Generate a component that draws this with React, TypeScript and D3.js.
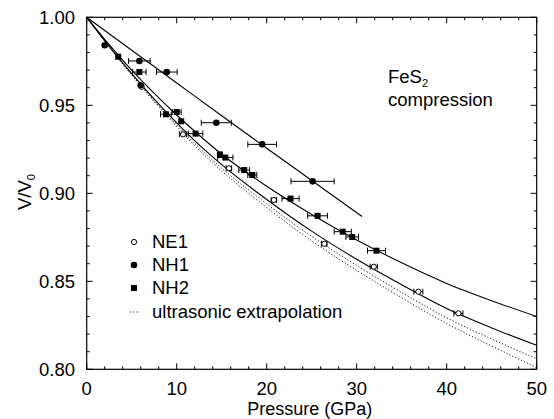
import React from 'react';
import * as d3 from 'd3';

// ---------- data ----------
const curveP = [0, 2.5, 5, 7.5, 10, 12.5, 15, 20, 25, 30, 35, 40, 45, 50];
const nh2FitV = [1.0, 0.9845, 0.97, 0.9568, 0.9445, 0.933, 0.9222, 0.904, 0.888, 0.8735, 0.8605, 0.8488, 0.839, 0.83];
const ne1FitV = [1.0, 0.9835, 0.968, 0.9535, 0.94, 0.9275, 0.9163, 0.8965, 0.8785, 0.8625, 0.848, 0.8345, 0.8235, 0.8136];
const ultraAV = [1.0, 0.9833, 0.9675, 0.9527, 0.9388, 0.9259, 0.9143, 0.894, 0.8755, 0.859, 0.8437, 0.8293, 0.8172, 0.806];
const ultraBV = [1.0, 0.9831, 0.9671, 0.952, 0.9378, 0.9245, 0.9127, 0.8919, 0.873, 0.8562, 0.8407, 0.826, 0.8132, 0.801];

const nh1FitP = [0, 5, 10, 15, 20, 25, 30.6];
const nh1FitV = [1.0, 0.9813, 0.9627, 0.9441, 0.9256, 0.9073, 0.8868];

const ne1P = [6.1, 10.7, 15.8, 20.8, 26.4, 31.9, 36.85, 41.3];
const ne1V = [0.9605, 0.9335, 0.9142, 0.8962, 0.8713, 0.8583, 0.8441, 0.8318];
const ne1Err = [0, 0.4, 0.3, 0.3, 0.3, 0.4, 0.5, 0.5];

const nh1P = [2.0, 5.85, 6.0, 8.9, 14.4, 19.5, 25.1];
const nh1V = [0.9841, 0.9752, 0.9614, 0.9689, 0.9401, 0.9278, 0.9068];
const nh1Err = [0, 1.2, 0, 1.15, 1.67, 1.6, 2.4];

const nh2P = [3.5, 5.85, 8.8, 10.0, 10.5, 12.1, 14.8, 15.4, 17.5, 18.4, 22.65, 25.65, 28.45, 29.5, 32.2];
const nh2V = [0.9776, 0.9689, 0.9449, 0.9462, 0.9409, 0.9339, 0.9221, 0.9203, 0.9132, 0.9104, 0.897, 0.8872, 0.8782, 0.8752, 0.8674];
const nh2Err = [0, 0.75, 0.6, 0.5, 0, 0.8, 0, 0.85, 0.6, 0.5, 0.95, 1.1, 0.95, 0.7, 1.0];

const xMajor = [0, 10, 20, 30, 40, 50];
const yMajor = [0.8, 0.85, 0.9, 0.95, 1.0];
const legendLabels = ['NE1', 'NH1', 'NH2', 'ultrasonic extrapolation'];

// ---------- layout ----------
const W = 554;
const H = 419;
const X0 = 86.7, X1 = 536.7, Y0 = 17.3, Y1 = 369.3;
const FONT = '"Liberation Sans", Arial, Helvetica, sans-serif';

const x = d3.scaleLinear().domain([0, 50]).range([X0, X1]);
const y = d3.scaleLinear().domain([0.8, 1.0]).range([Y1, Y0]);

const line = d3
  .line<[number, number]>()
  .x((d) => x(d[0]))
  .y((d) => y(d[1]))
  .curve(d3.curveMonotoneX);

const zip = (ps: number[], vs: number[]) => ps.map((p, i) => [p, vs[i]] as [number, number]);

function ErrorBar({ p, v, e }: { p: number; v: number; e: number }) {
  if (!e) return null;
  const cy = y(v);
  const xl = x(p - e), xr = x(p + e);
  return (
    <g stroke="#000" strokeWidth={1}>
      <line x1={xl} x2={xr} y1={cy} y2={cy} />
      <line x1={xl} x2={xl} y1={cy - 3} y2={cy + 3} />
      <line x1={xr} x2={xr} y1={cy - 3} y2={cy + 3} />
    </g>
  );
}

export default function App() {
  const xMinor = d3.range(0, 50.01, 2).filter((t) => !xMajor.some((m) => Math.abs(m - t) < 1e-6));
  const yMinor = d3.range(0.8, 1.0001, 0.01).filter((t) => !yMajor.some((m) => Math.abs(m - t) < 1e-6));

  const legendY = [242, 265, 288, 312];
  const legendSymX = 134;

  return (
    <svg
      width={W}
      height={H}
      style={{ position: 'absolute', left: 0, top: 0, background: '#fff' }}
      fontFamily={FONT}
    >
      <rect x={0} y={0} width={W} height={H} fill="#fff" />
      {/* curves */}
      <g fill="none" stroke="#000">
        <path d={line(zip(nh1FitP, nh1FitV)) || ''} strokeWidth={1.1} />
        <path d={line(zip(curveP, nh2FitV)) || ''} strokeWidth={1.1} />
        <path d={line(zip(curveP, ne1FitV)) || ''} strokeWidth={1.1} />
        <path d={line(zip(curveP, ultraAV)) || ''} strokeWidth={0.9} strokeDasharray="1.2,2" />
        <path d={line(zip(curveP, ultraBV)) || ''} strokeWidth={0.9} strokeDasharray="1.2,2" />
      </g>

      {/* error bars */}
      {ne1P.map((p, i) => <ErrorBar key={'e1' + i} p={p} v={ne1V[i]} e={ne1Err[i]} />)}
      {nh1P.map((p, i) => <ErrorBar key={'e2' + i} p={p} v={nh1V[i]} e={nh1Err[i]} />)}
      {nh2P.map((p, i) => <ErrorBar key={'e3' + i} p={p} v={nh2V[i]} e={nh2Err[i]} />)}

      {/* markers */}
      {ne1P.map((p, i) => (
        <circle key={'m1' + i} cx={x(p)} cy={y(ne1V[i])} r={2.6} fill="#fff" stroke="#000" strokeWidth={1} />
      ))}
      {nh1P.map((p, i) => (
        <circle key={'m2' + i} cx={x(p)} cy={y(nh1V[i])} r={3.3} fill="#000" />
      ))}
      {nh2P.map((p, i) => (
        <rect key={'m3' + i} x={x(p) - 3} y={y(nh2V[i]) - 3} width={6} height={6} fill="#000" />
      ))}

      {/* frame */}
      <rect x={X0} y={Y0} width={X1 - X0} height={Y1 - Y0} fill="none" stroke="#000" strokeWidth={1.2} />

      {/* ticks */}
      <g stroke="#000" strokeWidth={1}>
        {xMajor.map((t) => (
          <g key={'xM' + t}>
            <line x1={x(t)} x2={x(t)} y1={Y1} y2={Y1 - 6} />
            <line x1={x(t)} x2={x(t)} y1={Y0} y2={Y0 + 6} />
          </g>
        ))}
        {xMinor.map((t) => (
          <g key={'xm' + t}>
            <line x1={x(t)} x2={x(t)} y1={Y1} y2={Y1 - 3} />
            <line x1={x(t)} x2={x(t)} y1={Y0} y2={Y0 + 3} />
          </g>
        ))}
        {yMajor.map((t) => (
          <g key={'yM' + t}>
            <line x1={X0} x2={X0 + 6} y1={y(t)} y2={y(t)} />
            <line x1={X1} x2={X1 - 6} y1={y(t)} y2={y(t)} />
          </g>
        ))}
        {yMinor.map((t, i) => (
          <g key={'ym' + i}>
            <line x1={X0} x2={X0 + 3} y1={y(t)} y2={y(t)} />
            <line x1={X1} x2={X1 - 3} y1={y(t)} y2={y(t)} />
          </g>
        ))}
      </g>

      {/* tick labels */}
      <g fontSize={18.5} fill="#000">
        {xMajor.map((t) => (
          <text key={'xl' + t} x={x(t)} y={389} dy="0.35em" textAnchor="middle">
            {String(t)}
          </text>
        ))}
        {yMajor.map((t) => (
          <text key={'yl' + t} x={75} y={y(t)} dy="0.35em" textAnchor="end">
            {t.toFixed(2)}
          </text>
        ))}
      </g>

      {/* axis titles */}
      <text x={(X0 + X1) / 2 - 2} y={408.5} dy="0.35em" textAnchor="middle" fontSize={18}>
        Pressure (GPa)
      </text>
      <text transform="translate(25,192) rotate(-90)" textAnchor="middle" dy="0.35em" fontSize={18.5}>
        V/V<tspan fontSize={11} dy="4">0</tspan>
      </text>

      {/* annotation */}
      <text x={388} y={83} fontSize={18.5}>
        FeS<tspan fontSize={11} dy="4">2</tspan>
      </text>
      <text x={388} y={106} fontSize={18.5}>
        compression
      </text>

      {/* legend */}
      <g fontSize={18.5}>
        <circle cx={legendSymX} cy={legendY[0]} r={2.6} fill="#fff" stroke="#000" strokeWidth={1} />
        <circle cx={legendSymX} cy={legendY[1]} r={3.3} fill="#000" />
        <rect x={legendSymX - 3} y={legendY[2] - 3} width={6} height={6} fill="#000" />
        <line x1={legendSymX - 4} x2={legendSymX + 4} y1={legendY[3]} y2={legendY[3]} stroke="#000" strokeWidth={0.9} strokeDasharray="1.2,2" />
        {legendLabels.map((l, i) => (
          <text key={l} x={152} y={legendY[i]} dy="0.35em">
            {l}
          </text>
        ))}
      </g>
    </svg>
  );
}
